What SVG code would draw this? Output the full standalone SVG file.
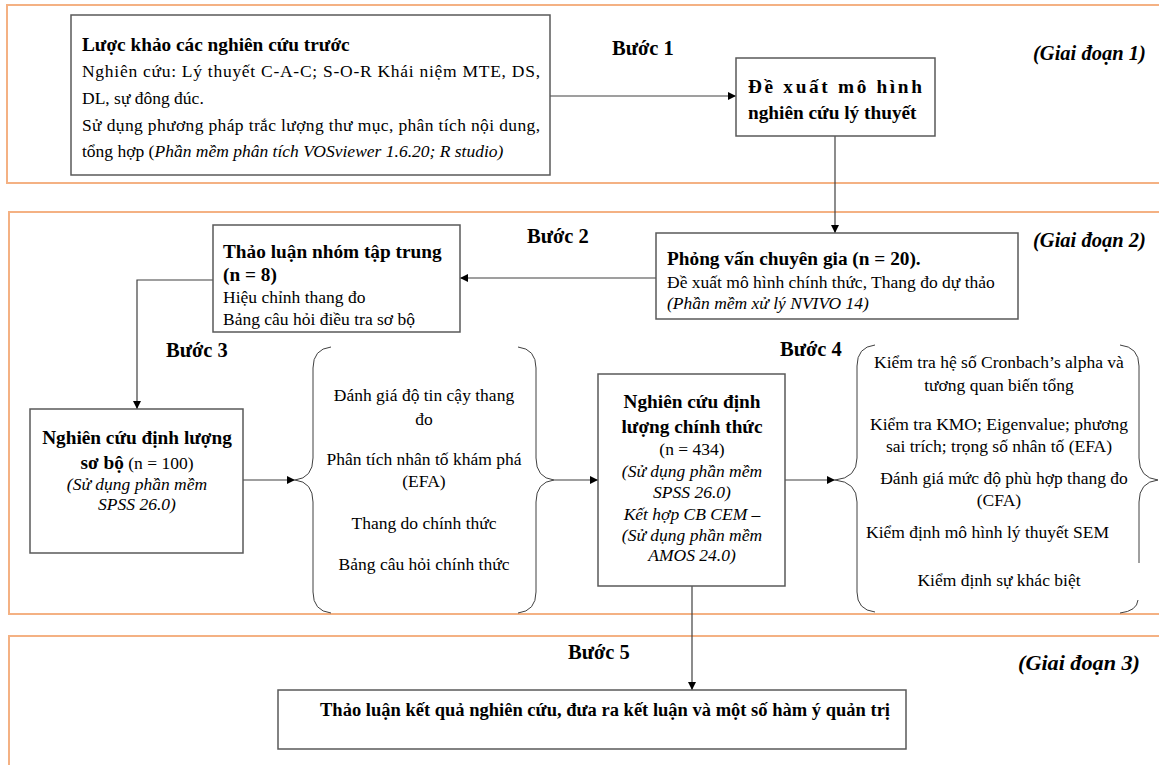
<svg xmlns="http://www.w3.org/2000/svg" width="1159" height="765" viewBox="0 0 1159 765" font-family="'Liberation Serif', 'DejaVu Serif', serif">
<defs>
<marker id="arr" viewBox="0 0 10 10" refX="10" refY="5" markerWidth="8" markerHeight="8" markerUnits="userSpaceOnUse" orient="auto">
<path d="M0,0 L10,5 L0,10 z" fill="#000"/>
</marker>
</defs>
<style>
text{font-family:'Liberation Serif','DejaVu Serif',serif;font-size:17.5px;fill:#000}
.b{font-weight:bold;font-size:19.3px}
.i{font-style:italic}
.l{font-weight:bold;font-size:20.5px}
.bi{font-weight:bold;font-style:italic;font-size:20.5px}
.c{text-anchor:middle}
.frame{fill:none;stroke:#F4B183;stroke-width:2}
.box{fill:#fff;stroke:#595959;stroke-width:1.5}
.con{fill:none;stroke:#404040;stroke-width:1.2}
.brace{fill:none;stroke:#404040;stroke-width:1}
</style>
<rect width="1159" height="765" fill="#fff"/>
<g id="frames">
<rect class="frame" x="7" y="5" width="1165" height="178"/>
<rect class="frame" x="9" y="212" width="1165" height="402"/>
<rect class="frame" x="9" y="636" width="1165" height="140"/>
</g>
<g id="labels">
<text class="l" x="612" y="55">Bước 1</text>
<text class="bi" x="1033" y="60">(Giai đoạn 1)</text>
<text class="l" x="527" y="243">Bước 2</text>
<text class="bi" x="1033" y="247">(Giai đoạn 2)</text>
<text class="l" x="166" y="357">Bước 3</text>
<text class="l" x="780" y="356">Bước 4</text>
<text class="l" x="568" y="659">Bước 5</text>
<text class="bi" x="1018" y="670" textLength="122" lengthAdjust="spacingAndGlyphs">(Giai đoạn 3)</text>
</g>
<g id="connectors">
<line class="con" x1="550" y1="96" x2="736" y2="96" marker-end="url(#arr)"/>
<line class="con" x1="835" y1="136" x2="835" y2="233" marker-end="url(#arr)"/>
<line class="con" x1="656" y1="278" x2="460" y2="278" marker-end="url(#arr)"/>
<polyline class="con" points="213,280 137,280 137,409" marker-end="url(#arr)"/>
<line class="con" x1="243" y1="480" x2="295" y2="480" marker-end="url(#arr)"/>
<line class="con" x1="554" y1="480" x2="598" y2="480" marker-end="url(#arr)"/>
<line class="con" x1="785" y1="480" x2="835" y2="480" marker-end="url(#arr)"/>
<line class="con" x1="692" y1="586" x2="692" y2="690" marker-end="url(#arr)"/>
</g>
<g id="n1">
<rect class="box" x="71" y="15" width="479" height="160"/>
<text class="b" x="82" y="51">Lược khảo các nghiên cứu trước</text>
<text x="82" y="77" textLength="458" lengthAdjust="spacing">Nghiên cứu: Lý thuyết C-A-C; S-O-R Khái niệm MTE, DS,</text>
<text x="82" y="104">DL, sự đông đúc.</text>
<text x="82" y="131" textLength="458" lengthAdjust="spacing">Sử dụng phương pháp trắc lượng thư mục, phân tích nội dung,</text>
<text x="82" y="157">tổng hợp (<tspan class="i">Phần mềm phân tích VOSviewer 1.6.20; R studio)</tspan></text>
</g>
<g id="n2">
<rect class="box" x="736" y="58" width="199" height="78"/>
<text class="b" x="748" y="93" textLength="174" lengthAdjust="spacing">Đề xuất mô hình</text>
<text class="b" x="748" y="119">nghiên cứu lý thuyết</text>
</g>
<g id="n3">
<rect class="box" x="656" y="233" width="362" height="86"/>
<text class="b" x="667" y="265">Phỏng vấn chuyên gia (n = 20).</text>
<text x="667" y="288">Đề xuất mô hình chính thức, Thang đo dự thảo</text>
<text class="i" x="667" y="309">(Phần mềm xử lý NVIVO 14)</text>
</g>
<g id="n4">
<rect class="box" x="213" y="225" width="247" height="107"/>
<text class="b" x="223" y="258">Thảo luận nhóm tập trung</text>
<text class="b" x="223" y="281">(n = 8)</text>
<text x="223" y="303">Hiệu chỉnh thang đo</text>
<text x="223" y="325">Bảng câu hỏi điều tra sơ bộ</text>
</g>
<g id="n5">
<rect class="box" x="30" y="409" width="213" height="144"/>
<text class="b c" x="137" y="444">Nghiên cứu định lượng</text>
<text class="c" x="137" y="469"><tspan font-weight="bold" font-size="19.3">sơ bộ</tspan> (n = 100)</text>
<text class="i c" x="137" y="490">(Sử dụng phần mềm</text>
<text class="i c" x="137" y="510">SPSS 26.0)</text>
</g>
<g id="n6">
<path class="brace" d="M331 347 Q313 349 313 368 L313 458 Q313 478 295 480 Q313 482 313 502 L313 592 Q313 611 331 613"/>
<path class="brace" d="M518 347 Q536 349 536 368 L536 458 Q536 478 554 480 Q536 482 536 502 L536 592 Q536 611 518 613"/>
<text class="c" x="424" y="401">Đánh giá độ tin cậy thang</text>
<text class="c" x="424" y="425">đo</text>
<text class="c" x="424" y="465">Phân tích nhân tố khám phá</text>
<text class="c" x="424" y="487">(EFA)</text>
<text class="c" x="424" y="529">Thang do chính thức</text>
<text class="c" x="424" y="570">Bảng câu hỏi chính thức</text>
</g>
<g id="n7">
<rect class="box" x="598" y="374" width="187" height="212"/>
<text class="b c" x="692" y="408">Nghiên cứu định</text>
<text class="b c" x="692" y="433">lượng chính thức</text>
<text class="c" x="692" y="455">(n = 434)</text>
<text class="i c" x="692" y="477">(Sử dụng phần mềm</text>
<text class="i c" x="692" y="498">SPSS 26.0)</text>
<text class="i c" x="692" y="520">Kết hợp CB CEM –</text>
<text class="i c" x="692" y="541">(Sử dụng phần mềm</text>
<text class="i c" x="692" y="561">AMOS 24.0)</text>
</g>
<g id="n8">
<path class="brace" d="M875 345 Q857 347 857 366 L857 458 Q857 478 835 480 Q857 482 857 502 L857 592 Q857 610 875 612"/>
<path class="brace" d="M1120 345 Q1139 347 1139 366 L1139 458 Q1139 478 1158 480 Q1139 482 1139 502 L1139 563 M1138 600 Q1137 611 1120 613"/>
<text class="c" x="999" y="368">Kiểm tra hệ số Cronbach’s alpha  và</text>
<text class="c" x="999" y="391">tương quan biến tổng</text>
<text class="c" x="999" y="430">Kiểm tra KMO; Eigenvalue; phương</text>
<text class="c" x="999" y="452">sai trích; trọng số nhân tố  (EFA)</text>
<text class="c" x="1004" y="484">Đánh giá mức độ phù hợp thang đo</text>
<text class="c" x="999" y="506">(CFA)</text>
<text x="866" y="538">Kiểm định mô hình lý thuyết SEM</text>
<text class="c" x="999" y="586">Kiểm định sự khác biệt</text>
</g>
<g id="n9">
<rect class="box" x="278" y="690" width="628" height="59"/>
<text class="b c" x="605" y="716" font-size="21" textLength="570" lengthAdjust="spacingAndGlyphs">Thảo luận kết  quả nghiên cứu, đưa ra kết luận và một số hàm ý quản trị</text>
</g>
</svg>
